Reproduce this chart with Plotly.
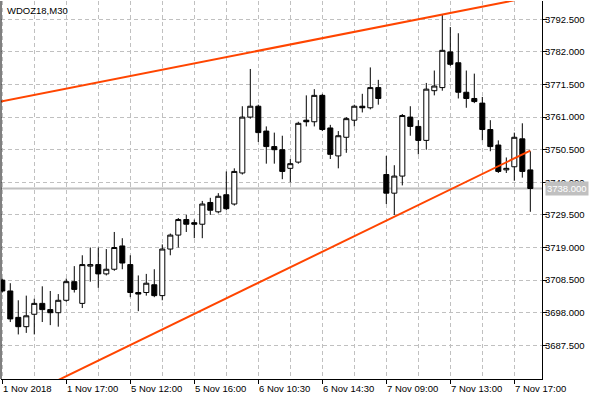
import plotly.graph_objects as go

# ---- data ----
symbol = "WDOZ18,M30"
bar_idx = list(range(67))
opens = [3708.5, 3705.0, 3696.5, 3693.5, 3697.5, 3701.0, 3699.0, 3698.0, 3702.0, 3708.0,
         3701.0, 3713.0, 3713.5, 3710.5, 3712.0, 3719.5, 3713.5, 3704.5, 3704.5, 3707.0,
         3703.5, 3718.5, 3723.0, 3728.0, 3727.0, 3726.5, 3733.5, 3730.5, 3736.0, 3733.0,
         3743.0, 3761.0, 3764.5, 3756.5, 3751.5, 3750.5, 3744.5, 3746.5, 3760.0, 3759.5,
         3768.0, 3757.5, 3748.5, 3754.5, 3760.0, 3764.5, 3764.0, 3770.5, 3742.5, 3736.5,
         3742.0, 3761.0, 3758.0, 3753.5, 3769.5, 3770.5, 3782.0, 3778.5, 3769.0, 3767.0,
         3765.5, 3757.0, 3752.0, 3744.0, 3745.0, 3754.0, 3744.0]
highs = [3709.0, 3707.5, 3702.0, 3703.5, 3702.5, 3706.5, 3705.0, 3704.0, 3709.0, 3713.0,
         3716.5, 3719.0, 3719.0, 3718.5, 3724.0, 3722.0, 3716.5, 3710.0, 3710.5, 3712.0,
         3720.0, 3723.5, 3728.5, 3729.5, 3728.0, 3734.0, 3735.0, 3736.5, 3743.5, 3744.5,
         3764.5, 3776.5, 3765.0, 3758.0, 3756.0, 3755.0, 3747.5, 3759.5, 3768.0, 3770.0,
         3768.5, 3758.5, 3756.5, 3761.0, 3765.0, 3768.5, 3777.0, 3773.0, 3748.5, 3745.5,
         3762.0, 3764.5, 3760.0, 3772.0, 3776.0, 3794.0, 3790.0, 3788.0, 3776.0, 3775.0,
         3767.5, 3760.0, 3753.5, 3748.0, 3756.0, 3759.0, 3750.0]
lows = [3704.5, 3695.0, 3691.0, 3691.5, 3691.0, 3695.0, 3694.0, 3693.5, 3701.5, 3704.5,
        3699.5, 3708.0, 3706.0, 3710.0, 3711.5, 3712.0, 3703.0, 3698.5, 3703.5, 3703.0,
        3702.0, 3716.5, 3719.0, 3724.0, 3722.0, 3722.0, 3729.5, 3730.0, 3731.0, 3732.5,
        3742.5, 3760.5, 3753.0, 3746.0, 3746.0, 3741.0, 3740.0, 3746.0, 3758.0, 3758.0,
        3756.5, 3747.5, 3744.5, 3749.5, 3758.0, 3762.5, 3763.5, 3765.0, 3733.0, 3729.5,
        3739.0, 3755.0, 3749.0, 3750.5, 3768.0, 3769.5, 3777.5, 3767.0, 3764.0, 3765.5,
        3753.5, 3750.0, 3743.0, 3743.0, 3740.5, 3741.5, 3730.5]
closes = [3705.0, 3696.0, 3693.5, 3697.0, 3701.0, 3699.0, 3698.0, 3702.0, 3708.0, 3705.5,
          3713.5, 3713.5, 3710.5, 3712.0, 3719.0, 3714.0, 3704.5, 3704.0, 3707.5, 3703.5,
          3718.5, 3723.0, 3728.0, 3726.5, 3726.5, 3733.0, 3731.0, 3735.5, 3731.5, 3743.5,
          3761.0, 3764.5, 3756.0, 3751.5, 3750.5, 3743.5, 3746.0, 3759.0, 3759.5, 3768.0,
          3757.0, 3749.0, 3755.0, 3760.5, 3764.5, 3764.0, 3770.5, 3767.0, 3736.5, 3742.0,
          3761.5, 3758.0, 3753.5, 3770.0, 3771.0, 3782.5, 3778.0, 3769.0, 3767.0, 3766.0,
          3757.0, 3751.5, 3743.5, 3744.5, 3754.5, 3743.5, 3738.0]

# trend line anchors (bar index, price)
upper_line_x = [-1, 64]
upper_line_y = [3765.6, 3798.6]
lower_line_x = [5, 66]
lower_line_y = [3673.8, 3750.2]

current_price = 3738.0

price_ticks = [3687.5, 3698.0, 3708.5, 3719.0, 3729.5, 3740.0, 3750.5, 3761.0, 3771.5, 3782.0, 3792.5]
time_tick_idx = [0, 8, 16, 24, 32, 40, 48, 56, 64]
time_tick_labels = ["1 Nov 2018", "1 Nov 17:00", "5 Nov 12:00", "5 Nov 16:00", "6 Nov 10:30",
                    "6 Nov 14:30", "7 Nov 09:00", "7 Nov 13:00", "7 Nov 17:00"]

# ---- styling ----
FONT = "Liberation Sans"
FS = 9.5
GRID = "#C0C0C0"
TREND = "#FF4500"

fig = go.Figure()
fig.add_trace(go.Candlestick(
    x=bar_idx, open=opens, high=highs, low=lows, close=closes,
    increasing=dict(line=dict(color="black", width=1), fillcolor="white"),
    decreasing=dict(line=dict(color="black", width=1), fillcolor="black"),
    whiskerwidth=0, showlegend=False, hoverinfo="skip",
))
fig.add_trace(go.Scatter(x=upper_line_x, y=upper_line_y, mode="lines",
                         line=dict(color=TREND, width=2), showlegend=False, hoverinfo="skip"))
fig.add_trace(go.Scatter(x=lower_line_x, y=lower_line_y, mode="lines",
                         line=dict(color=TREND, width=2), showlegend=False, hoverinfo="skip"))

# current price line
fig.add_shape(type="line", xref="paper", x0=0, x1=1, yref="y", y0=current_price, y1=current_price,
              line=dict(color=GRID, width=2), layer="below")
# left frame line
fig.add_shape(type="line", xref="paper", x0=0, x1=0, yref="paper", y0=0, y1=1,
              line=dict(color="black", width=1))

annotations = []
for idx, lab in zip(time_tick_idx, time_tick_labels):
    annotations.append(dict(x=idx, xref="x", y=0, yref="paper", text=lab, showarrow=False,
                            xanchor="left", yanchor="middle", yshift=-9.5, xshift=-1,
                            font=dict(family=FONT, size=FS, color="black")))
annotations.append(dict(x=0, xref="paper", y=1, yref="paper", text=symbol, showarrow=False,
                        xanchor="left", yanchor="middle", xshift=3.5, yshift=-9,
                        font=dict(family=FONT, size=FS, color="black")))
annotations.append(dict(x=1, xref="paper", y=current_price, yref="y", text=f"{current_price:.3f}",
                        showarrow=False, xanchor="left", yanchor="middle", xshift=3,
                        bgcolor=GRID, borderpad=1,
                        font=dict(family=FONT, size=FS, color="white")))

fig.update_layout(
    width=600, height=400,
    margin=dict(l=1, r=58, t=1, b=21),
    paper_bgcolor="white", plot_bgcolor="white",
    font=dict(family=FONT, size=FS, color="black"),
    boxgap=0.37, boxgroupgap=0,
    showlegend=False,
    annotations=annotations,
    xaxis=dict(
        range=[-0.16, 67.46], rangeslider=dict(visible=False),
        tickmode="linear", tick0=0, dtick=8,
        showticklabels=False, ticks="outside", ticklen=4, tickcolor="black", tickwidth=1,
        showgrid=True, gridcolor=GRID, griddash="4px,3px", gridwidth=1,
        minor=dict(tickmode="linear", tick0=0, dtick=4, showgrid=True, gridcolor=GRID,
                   griddash="4px,3px", gridwidth=1, ticks=""),
        showline=True, linecolor="black", linewidth=1, zeroline=False, fixedrange=True,
    ),
    yaxis=dict(
        range=[3676.65, 3798.39], side="right",
        tickmode="array", tickvals=price_ticks, ticktext=[f"{v:.3f}" for v in price_ticks],
        ticks="outside", ticklen=4, tickcolor="black", tickwidth=1, ticklabelstandoff=-4,
        showgrid=True, gridcolor=GRID, griddash="4px,3px", gridwidth=1,
        showline=True, linecolor="black", linewidth=1, zeroline=False, fixedrange=True,
        tickfont=dict(family=FONT, size=FS, color="black"),
    ),
)

fig.write_html("out.html", config={"displayModeBar": False},
               post_script="document.body.style.margin='0';")
